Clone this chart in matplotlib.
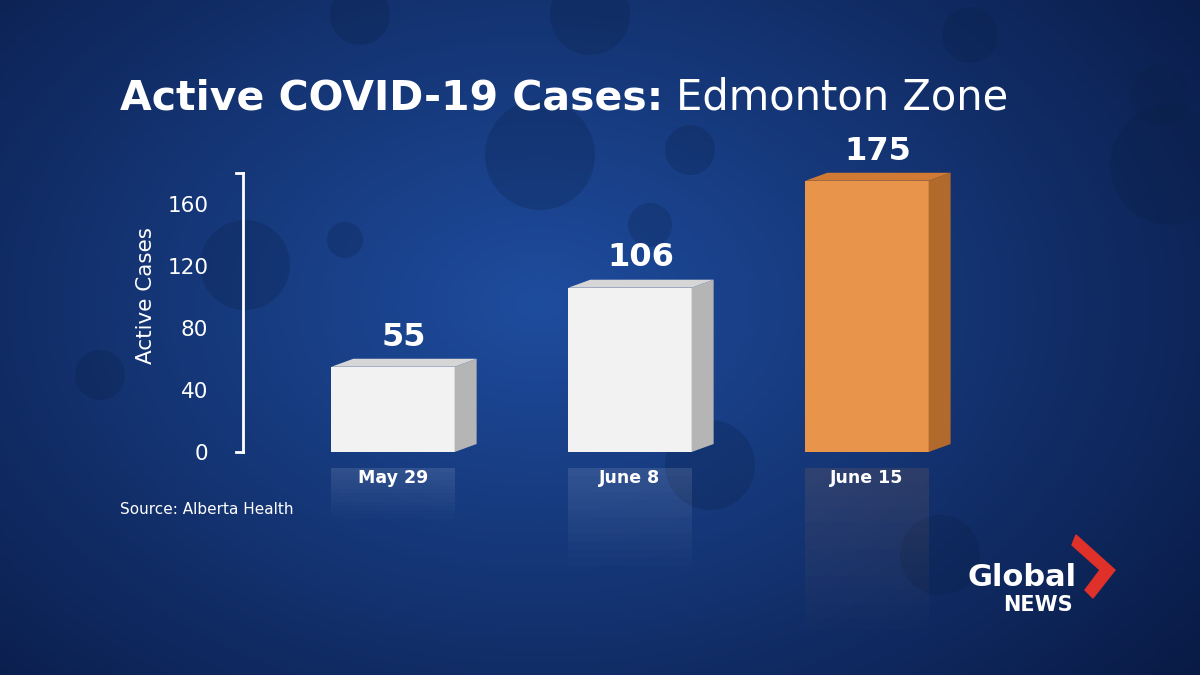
import matplotlib
matplotlib.use("Agg")
import matplotlib.pyplot as plt
import numpy as np
from matplotlib.patches import Polygon, Circle, Rectangle

categories = ["May 29", "June 8", "June 15"]
values = [55, 106, 175]
yticks = [0, 40, 80, 120, 160]
front_colors = ["#f2f2f2", "#f2f2f2", "#e8944a"]
side_colors = ["#b5b5b5", "#b5b5b5", "#b26a2c"]
top_colors = ["#d6d6d6", "#d6d6d6", "#d07a33"]

W, H = 1200, 675
fig = plt.figure(figsize=(12, 6.75), dpi=100)

bg = fig.add_axes([0, 0, 1, 1])
yy, xx = np.mgrid[0:1:200j, 0:1:300j]
r = np.sqrt((xx - 0.45) ** 2 + ((yy - 0.55) * 0.8) ** 2)
c0 = np.array([0.12, 0.30, 0.62]); c1 = np.array([0.03, 0.09, 0.25])
t = np.clip(r / 0.75, 0, 1)[..., None]
img = c0 * (1 - t) + c1 * t
bg.imshow(img, extent=[0, W, 0, H], origin="lower", aspect="auto")
rng_blobs = [(540, 520, 55), (690, 525, 25), (245, 410, 45), (650, 450, 22), (345, 435, 18),
             (710, 210, 45), (590, 660, 40), (970, 640, 28), (1170, 510, 60), (940, 120, 40),
             (100, 300, 25), (360, 660, 30), (1160, 580, 30)]
for x, y, rr in rng_blobs:
    bg.add_patch(Circle((x, y), rr, color="#0a1f45", alpha=0.25, lw=0))
bg.set_xlim(0, W); bg.set_ylim(0, H); bg.axis("off")

fig.text(120 / W, 1 - 98 / H, "Active COVID-19 Cases:", color="white", fontsize=29.5,
         fontweight="bold", va="center", ha="left")
fig.text(676 / W, 1 - 98 / H, "Edmonton Zone", color="white", fontsize=30, va="center", ha="left")
fig.text(120 / W, 1 - 510 / H, "Source: Alberta Health", color="white", fontsize=11, va="center")
fig.text(1022 / W, 1 - 578 / H, "Global", color="white", fontsize=22, fontweight="bold", ha="center", va="center")
fig.text(1038 / W, 1 - 605 / H, "NEWS", color="white", fontsize=15, fontweight="bold", ha="center", va="center")
fig.patches.append(Polygon([[1076 / W, 1 - 535 / H], [1115 / W, 1 - 570 / H], [1093 / W, 1 - 598 / H],
                            [1085 / W, 1 - 590 / H], [1100 / W, 1 - 570 / H], [1072 / W, 1 - 545 / H]],
                           closed=True, color="#e0302a", transform=fig.transFigure))

upp = 237.0
ppu = 1.55
left_px, right_px = 243, 1000
bottom_px, top_px = 452, 140
ax = fig.add_axes([left_px / W, 1 - bottom_px / H, (right_px - left_px) / W, (bottom_px - top_px) / H])
ax.patch.set_alpha(0)
x0 = -(393 - left_px) / upp
ax.set_xlim(x0, x0 + (right_px - left_px) / upp)
ax.set_ylim(0, (bottom_px - top_px) / ppu)

bw = 0.52
dx = 22 / upp
dy = 8 / ppu
for i, v in enumerate(values):
    l, rgt = i - bw / 2, i + bw / 2
    ax.add_patch(Rectangle((l, 0), bw, v, color=front_colors[i], lw=0))
    ax.add_patch(Polygon([[rgt, 0], [rgt + dx, dy], [rgt + dx, v + dy], [rgt, v]], color=side_colors[i], lw=0))
    ax.add_patch(Polygon([[l, v], [l + dx, v + dy], [rgt + dx, v + dy], [rgt, v]], color=top_colors[i], lw=0))
    n = 12
    for k in range(n):
        h = v * 0.6 / n
        ax.add_patch(Rectangle((l, -10 - h * (k + 1)), bw, h, color=front_colors[i],
                               alpha=0.12 * (1 - k / n), lw=0, clip_on=False))
    ax.text(i + dx / 2, v + dy + 4, str(v), color="white", fontsize=23, fontweight="bold", ha="center", va="bottom")
    ax.text(i, -17, categories[i], color="white", fontsize=12.5, fontweight="bold", ha="center", va="center")

for s in ["top", "right", "bottom", "left"]:
    ax.spines[s].set_visible(False)
ax.plot([x0, x0], [0, 180], color="white", lw=2, clip_on=False)
ax.plot([x0 - 0.03, x0], [0, 0], color="white", lw=2, clip_on=False)
ax.plot([x0 - 0.03, x0], [180, 180], color="white", lw=2, clip_on=False)
ax.set_xticks([])
ax.set_yticks(yticks)
ax.tick_params(axis="y", length=0, labelcolor="white", labelsize=15.5, pad=25)
ax.set_ylabel("Active Cases", color="white", fontsize=15.5, labelpad=8)

fig.savefig("out.png", dpi=100)
